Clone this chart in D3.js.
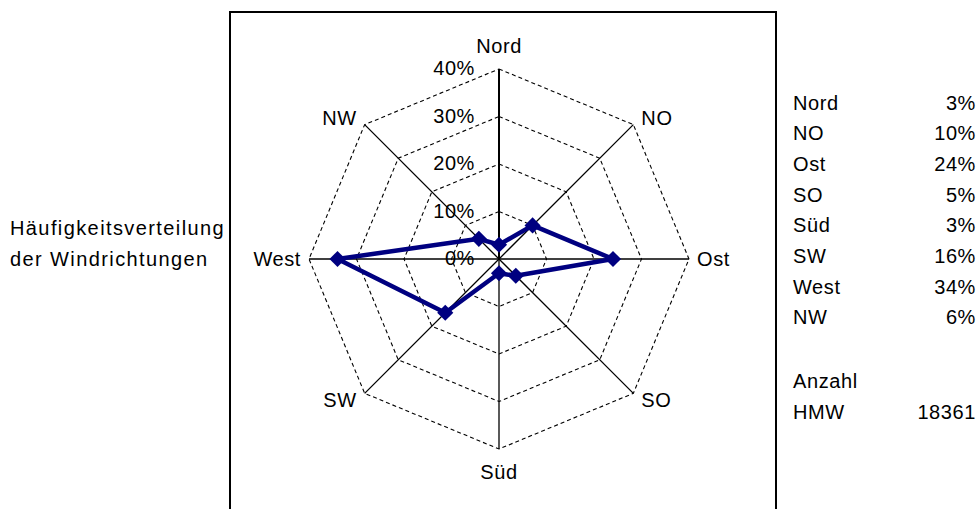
<!DOCTYPE html>
<html>
<head>
<meta charset="utf-8">
<script src="https://cdn.jsdelivr.net/npm/d3@7"></script>
<style>
  body { margin: 0; background: #fff; }
  svg text { font-family: "Liberation Sans", Arial, sans-serif; font-size: 20px; fill: #000; letter-spacing: 0.6px; }
  svg text.title { letter-spacing: 1.4px; }
</style>
</head>
<body>
<svg id="radar" width="979" height="509"></svg>
<script>
const directions = ["Nord", "NO", "Ost", "SO", "Süd", "SW", "West", "NW"];
const shares = [0.03, 0.10, 0.24, 0.05, 0.03, 0.16, 0.34, 0.06];
const ticks = [0, 0.1, 0.2, 0.3, 0.4];
const titleLines = ["Häufigkeitsverteilung", "der Windrichtungen"];
const countLabel = ["Anzahl", "HMW"];
const countValue = 18361;

const svg = d3.select("#radar");
const cx = 499, cy = 259, R = 190;

// chart frame
svg.append("rect")
  .attr("x", 230).attr("y", 12)
  .attr("width", 546).attr("height", 520)
  .attr("fill", "none")
  .attr("stroke", "#000")
  .attr("stroke-width", 2);

const r = d3.scaleLinear().domain([0, 0.4]).range([0, R]);
const angle = d3.scalePoint()
  .domain(directions)
  .range([0, 2 * Math.PI * (directions.length - 1) / directions.length]);

const g = svg.append("g").attr("transform", `translate(${cx},${cy})`);

// dashed grid rings
const ring = d3.lineRadial()
  .angle(d => angle(d))
  .curve(d3.curveLinearClosed);

g.selectAll("path.grid")
  .data(ticks.slice(1))
  .enter()
  .append("path")
  .attr("class", "grid")
  .attr("d", t => ring.radius(() => r(t))(directions))
  .attr("fill", "none")
  .attr("stroke", "#000")
  .attr("stroke-width", 1.1)
  .attr("stroke-dasharray", "4,3");

// spokes
g.selectAll("line.spoke")
  .data(directions)
  .enter()
  .append("line")
  .attr("class", "spoke")
  .attr("x1", 0).attr("y1", 0)
  .attr("x2", d => r(0.4) * Math.sin(angle(d)))
  .attr("y2", d => -r(0.4) * Math.cos(angle(d)))
  .attr("stroke", "#000")
  .attr("stroke-width", d => d === "Nord" ? 2 : 1.3);

// category labels
g.selectAll("text.cat")
  .data(directions)
  .enter()
  .append("text")
  .attr("class", "cat")
  .attr("x", d => {
    const s = Math.sin(angle(d));
    return r(0.4) * s + (Math.abs(s) < 0.1 ? 0 : Math.sign(s) * 8);
  })
  .attr("y", d => {
    const a = angle(d), s = Math.sin(a), c = Math.cos(a);
    return -r(0.4) * c - c * (Math.abs(s) < 0.1 ? 23 : 9);
  })
  .attr("dy", "0.35em")
  .attr("text-anchor", d => {
    const s = Math.sin(angle(d));
    return Math.abs(s) < 0.1 ? "middle" : (s > 0 ? "start" : "end");
  })
  .text(d => d);

// value axis labels
g.selectAll("text.tick")
  .data(ticks)
  .enter()
  .append("text")
  .attr("class", "tick")
  .attr("x", -24)
  .attr("y", t => -r(t) - 1)
  .attr("dy", "0.35em")
  .attr("text-anchor", "end")
  .text(d3.format(".0%"));

// data series
const series = directions.map((d, i) => ({ dir: d, v: shares[i] }));
const line = d3.lineRadial()
  .angle(d => angle(d.dir))
  .radius(d => r(d.v))
  .curve(d3.curveLinearClosed);

g.append("path")
  .datum(series)
  .attr("d", line)
  .attr("fill", "none")
  .attr("stroke", "#000080")
  .attr("stroke-width", 4.5)
  .attr("stroke-linejoin", "round");

g.selectAll("path.marker")
  .data(series)
  .enter()
  .append("path")
  .attr("class", "marker")
  .attr("d", d3.symbol().type(d3.symbolSquare).size(130))
  .attr("transform", d => {
    const a = angle(d.dir);
    return `translate(${r(d.v) * Math.sin(a)},${-r(d.v) * Math.cos(a)}) rotate(45)`;
  })
  .attr("fill", "#000080");

// title on the left
svg.selectAll("text.title")
  .data(titleLines)
  .enter()
  .append("text")
  .attr("class", "title")
  .attr("x", 10)
  .attr("y", (d, i) => 228 + i * 30.5)
  .attr("dy", "0.35em")
  .text(d => d);

// table on the right
const rowY = i => 102.5 + i * 30.7;
const fmt = d3.format(".0%");
const table = svg.append("g");
table.selectAll("text.name")
  .data(directions)
  .enter()
  .append("text")
  .attr("class", "name")
  .attr("x", 793)
  .attr("y", (d, i) => rowY(i))
  .attr("dy", "0.35em")
  .text(d => d);
table.selectAll("text.val")
  .data(shares)
  .enter()
  .append("text")
  .attr("class", "val")
  .attr("x", 976)
  .attr("y", (d, i) => rowY(i))
  .attr("dy", "0.35em")
  .attr("text-anchor", "end")
  .text(d => fmt(d));

table.selectAll("text.count")
  .data(countLabel)
  .enter()
  .append("text")
  .attr("class", "count")
  .attr("x", 793)
  .attr("y", (d, i) => rowY(9) + 2 + i * 30.7)
  .attr("dy", "0.35em")
  .text(d => d);
table.append("text")
  .attr("x", 976)
  .attr("y", rowY(10) + 2)
  .attr("dy", "0.35em")
  .attr("text-anchor", "end")
  .text(countValue);
</script>
</body>
</html>
